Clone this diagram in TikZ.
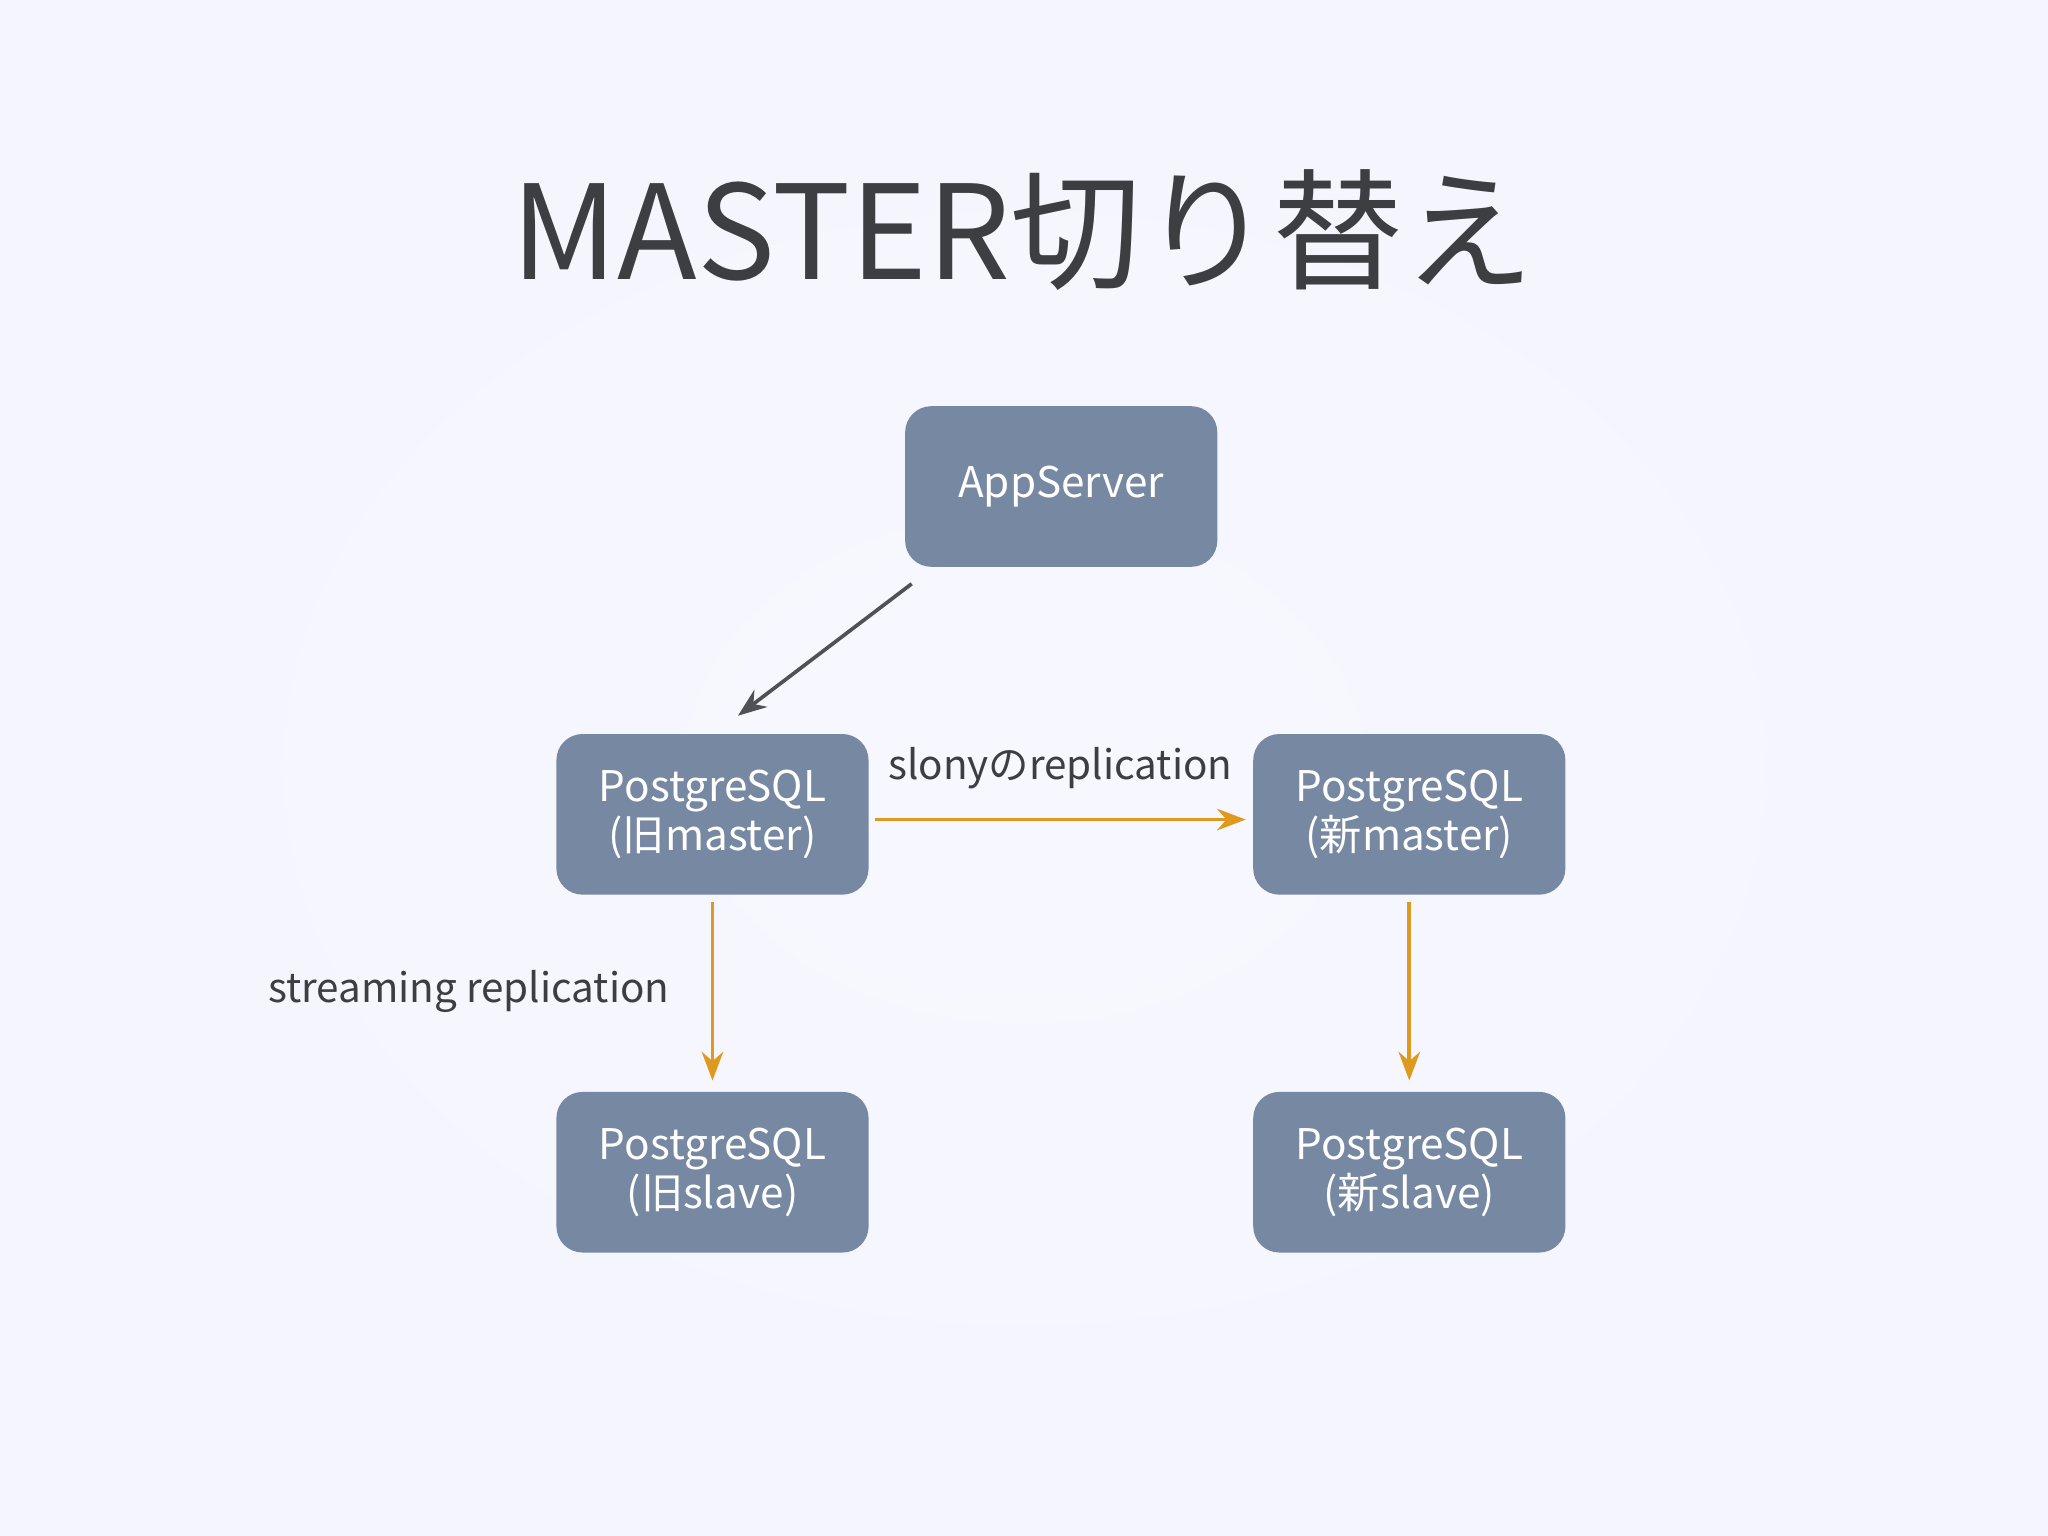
\documentclass[tikz,border=0pt]{standalone}
\usepackage{fontspec}
\setmainfont{Noto Sans CJK JP}
\usetikzlibrary{arrows.meta,positioning}
\definecolor{boxfill}{HTML}{7788A3}
\definecolor{repl}{HTML}{DE9A1E}
\definecolor{titlegray}{HTML}{3C3E42}
\tikzstyle{dbbox}=[fill=boxfill,text=white,rounded corners=0.2cm,minimum width=2.39cm,minimum height=1.23cm,align=center,font=\fontsize{9.2}{10.6}\selectfont]
\tikzstyle{callarc}=[-{Stealth[length=0.22cm]},draw=titlegray!90,thick]
\tikzstyle{replarc}=[-{Stealth[length=0.22cm]},draw=repl,thick]
\tikzstyle{repllabel}=[text=titlegray,font=\fontsize{8.8}{10}\selectfont]

\begin{document}
\begin{tikzpicture}
\shade[inner color=white!97!blue,outer color=black!16!blue!4] (0,0) rectangle (15.68,11.76);
\useasboundingbox (0,0) rectangle (15.68,11.76);

\node[text=titlegray,font=\fontsize{28.5}{30}\selectfont] (TITLE) at (7.83,10.0) {MASTER切り替え};

\node[dbbox] (APP) at (8.125,8.035) {AppServer};
\node[dbbox] (OLDM) at (5.455,5.525) {PostgreSQL\\(旧master)};
\node[dbbox] (NEWM) at (10.79,5.525) {PostgreSQL\\(新master)};
\node[dbbox] (OLDS) at (5.455,2.785) {PostgreSQL\\(旧slave)};
\node[dbbox] (NEWS) at (10.79,2.785) {PostgreSQL\\(新slave)};

\coordinate (APPOUT) at (6.98,7.29);
\coordinate (OLDIN) at (5.65,6.28);
\draw[callarc] (APPOUT) -- (OLDIN);

\draw[replarc] ([xshift=0.04cm,yshift=-0.04cm]OLDM.east) -- ([xshift=-0.05cm,yshift=-0.04cm]NEWM.west)
 node[repllabel,midway,above=0.1cm] {slonyのreplication};
\draw[replarc] ([yshift=-0.05cm]OLDM.south) -- ([yshift=0.08cm]OLDS.north)
 node[repllabel,midway,left=0.2cm] {streaming replication};
\draw[replarc] ([yshift=-0.05cm]NEWM.south) -- ([yshift=0.08cm]NEWS.north);

\end{tikzpicture}
\end{document}
